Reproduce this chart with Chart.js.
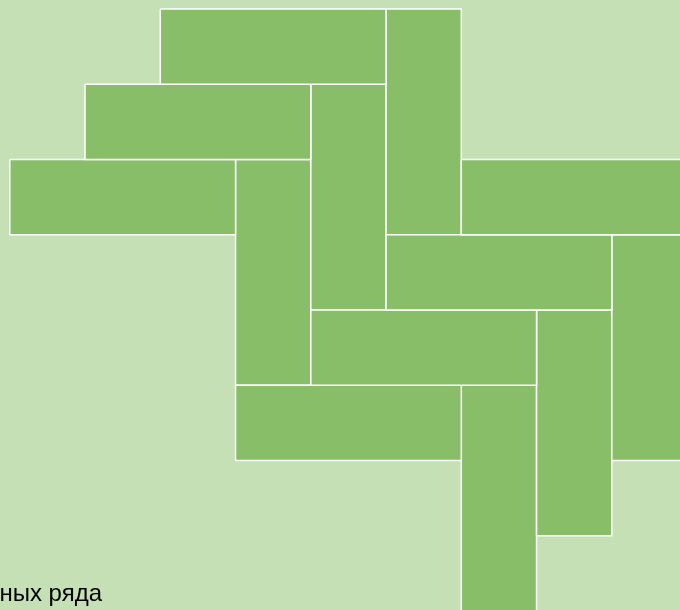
<!DOCTYPE html>
<html>
<head>
<meta charset="utf-8">
<script src="https://cdn.jsdelivr.net/npm/chart.js@4"></script>
<style>
  html, body { margin: 0; padding: 0; background: #C5E0B4; }
  #wrap { width: 680px; height: 610px; }
</style>
</head>
<body>
<div id="wrap"><canvas id="parquet"></canvas></div>
<script>
// tile grid positions (in plank-width units, y counts downwards)
const horizX = [2, 1, 0, 6, 5, 4, 3];
const horizY = [0, 1, 2, 2, 3, 4, 5];
const vertX = [5, 4, 3, 8, 7, 6];
const vertY = [0, 1, 2, 3, 4, 5];
const plankLen = 3;
const plankWid = 1;
const caption = "ных ряда";

function rect(x, y, w, h) {
  return [
    { x: x, y: y }, { x: x + w, y: y }, { x: x + w, y: y + h },
    { x: x, y: y + h }, { x: x, y: y }
  ];
}

const datasets = [];
horizX.forEach(function (x, i) {
  datasets.push({ data: rect(x, horizY[i], plankLen, plankWid) });
});
vertX.forEach(function (x, i) {
  datasets.push({ data: rect(x, vertY[i], plankWid, plankLen) });
});
datasets.forEach(function (d) {
  d.showLine = true;
  d.fill = 'shape';
  d.backgroundColor = '#88BE68';
  d.borderColor = '#ffffff';
  d.borderWidth = 1.5;
  d.pointRadius = 0;
  d.tension = 0;
});

const captionPlugin = {
  id: 'caption',
  afterDraw(chart) {
    const ctx = chart.ctx;
    ctx.save();
    ctx.font = '24px "Liberation Sans", Arial, sans-serif';
    ctx.fillStyle = '#000000';
    ctx.textAlign = 'right';
    ctx.textBaseline = 'alphabetic';
    ctx.fillText(caption, 102, 601);
    ctx.restore();
  }
};

new Chart(document.getElementById("parquet"), {
  type: 'scatter',
  data: { datasets: datasets },
  options: {
    responsive: true,
    maintainAspectRatio: false,
    animation: false,
    layout: { padding: 0 },
    plugins: {
      legend: { display: false },
      tooltip: { enabled: false }
    },
    scales: {
      x: { type: 'linear', min: -0.13, max: 8.906, display: false },
      y: { type: 'linear', reverse: true, min: -0.12, max: 7.987, display: false }
    }
  },
  plugins: [captionPlugin]
});
</script>
</body>
</html>
